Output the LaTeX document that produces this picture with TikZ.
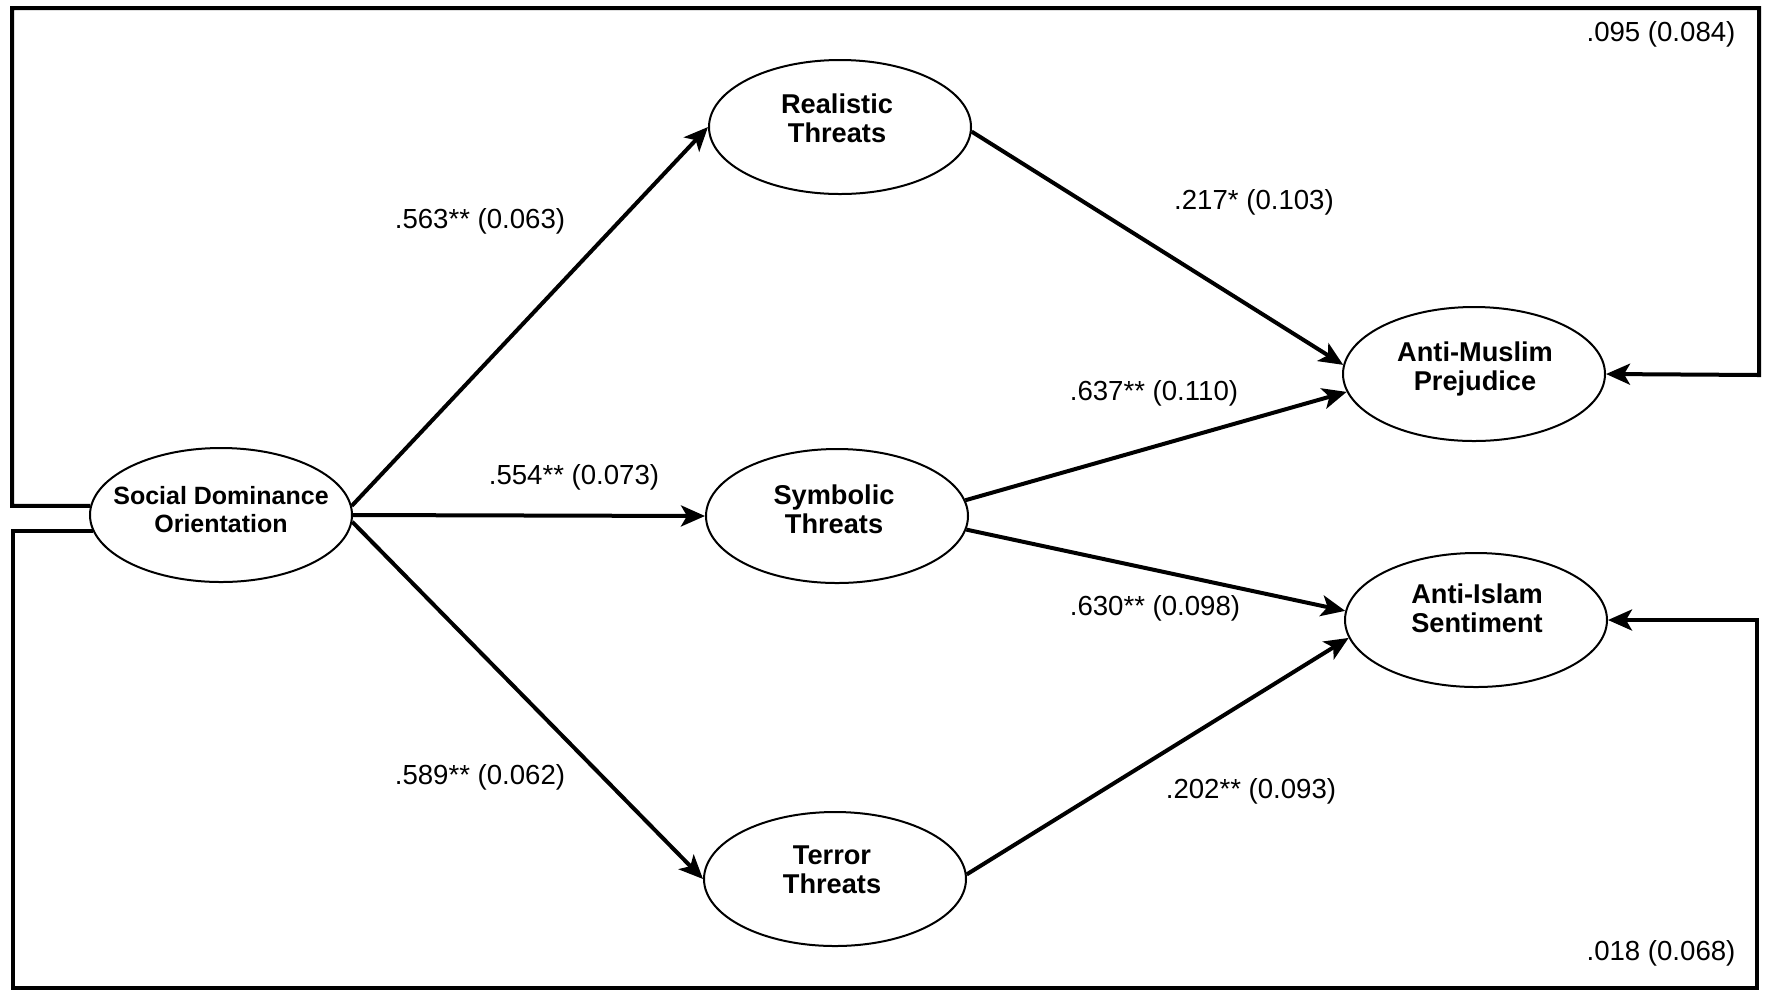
\documentclass[tikz,border=0pt]{standalone}
\usepackage{fontspec}
\setmainfont{Liberation Sans}
\usetikzlibrary{shapes.geometric,arrows.meta}
\begin{document}
\begin{tikzpicture}[x=0.5pt,y=-0.5pt,
  latent/.style={ellipse,draw,line width=1pt,minimum width=131pt,minimum height=67pt,inner sep=0pt},
  ltxt/.style={font=\bfseries\fontsize{13.6}{14.5}\selectfont,align=center,yshift=4.5pt,xshift=-1.5pt},
  stxt/.style={font=\bfseries\fontsize{12.5}{14}\selectfont,align=center,yshift=2.5pt},
  path/.style={line width=2pt,-{Stealth[length=12pt,width=10.5pt,inset=3pt]}},
  loopline/.style={line width=2pt,line join=miter,-{Stealth[length=12pt,width=10.5pt,inset=3pt]}},
  coef/.style={font=\fontsize{13.8}{15}\selectfont,inner sep=0pt}]
\useasboundingbox (0,0) rectangle (1772,998);
\fill[white] (0,0) rectangle (1772,998);
\node[latent,label={[stxt]center:{Social Dominance\\Orientation}}] (sdo) at (221,515) {};
\node[latent,label={[ltxt]center:{Realistic\\Threats}}] (rt) at (840,127) {};
\node[latent,label={[ltxt,yshift=-1.2pt]center:{Symbolic\\Threats}}] (st) at (837,516) {};
\node[latent,label={[ltxt]center:{Terror\\Threats}}] (tt) at (835,879) {};
\node[latent,label={[ltxt,yshift=-2.2pt,xshift=2pt]center:{Anti-Muslim\\Prejudice}}] (amp) at (1474,374) {};
\node[latent,label={[ltxt,yshift=1.4pt,xshift=2pt]center:{Anti-Islam\\Sentiment}}] (ais) at (1476,620) {};
\coordinate (tl) at (12,8);
\coordinate (tr) at (1759,375);
\coordinate (bl) at (13,988);
\coordinate (br) at (1757,620);
\draw[path] (sdo.4) -- (rt.west);
\draw[path] (sdo.east) -- (st.west);
\draw[path] (sdo.-3) -- (tt.west);
\draw[path] (rt.-2) -- (amp.176);
\draw[path] (st.7) -- (amp.-172);
\draw[path] (st.-6) -- (ais.176);
\draw[path] (tt.2) -- (ais.-172);
\draw[loopline] (sdo.176) -| (tl) -| (tr) -- (amp.east);
\draw[loopline] (sdo.187) -| (bl) -| (br) -- (ais.east);
\node[coef] (c1) at (480,221) {.563** (0.063)};
\node[coef] (c2) at (574,477) {.554** (0.073)};
\node[coef] (c3) at (480,777) {.589** (0.062)};
\node[coef] (c4) at (1254,202) {.217* (0.103)};
\node[coef] (c5) at (1154,393) {.637** (0.110)};
\node[coef] (c6) at (1155,608) {.630** (0.098)};
\node[coef] (c7) at (1251,791) {.202** (0.093)};
\node[coef] (c8) at (1661,34) {.095 (0.084)};
\node[coef] (c9) at (1661,953) {.018 (0.068)};
\end{tikzpicture}
\end{document}
